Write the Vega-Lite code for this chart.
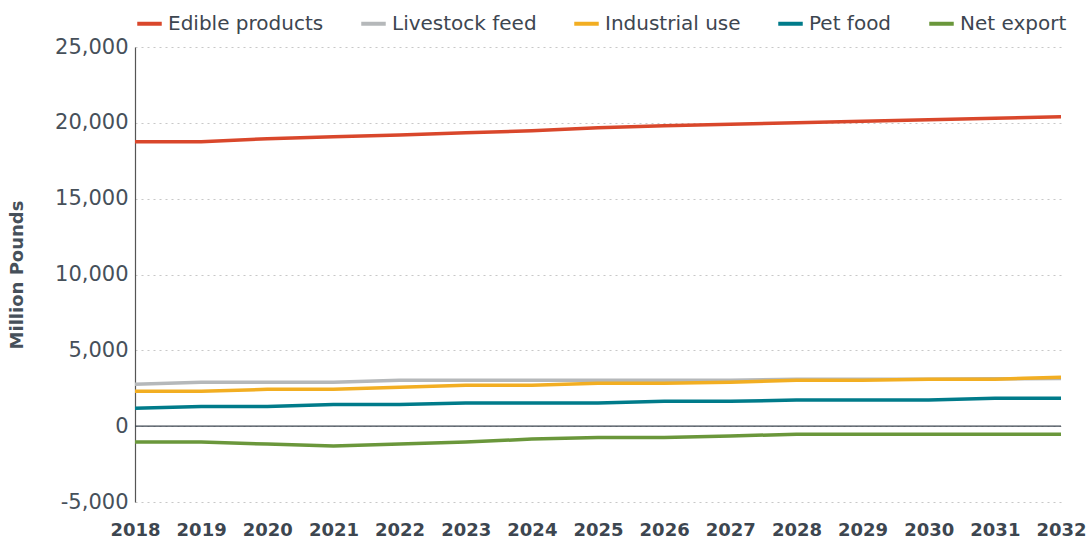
{
  "$schema": "https://vega.github.io/schema/vega-lite/v6.json",
  "width": 1087,
  "height": 543,
  "autosize": {"type": "fit", "contains": "padding"},
  "padding": {"left": 8, "top": 9, "right": 0, "bottom": 4},
  "config": {
    "view": {"stroke": null},
    "font": "DejaVu Sans",
    "axis": {"labelColor": "#46505a", "titleColor": "#46505a"}
  },
  "datasets": {
    "d": [
      {"year": "2018", "s": "Edible products", "v": 18750},
      {"year": "2019", "s": "Edible products", "v": 18750},
      {"year": "2020", "s": "Edible products", "v": 18950},
      {"year": "2021", "s": "Edible products", "v": 19080},
      {"year": "2022", "s": "Edible products", "v": 19200},
      {"year": "2023", "s": "Edible products", "v": 19340},
      {"year": "2024", "s": "Edible products", "v": 19470},
      {"year": "2025", "s": "Edible products", "v": 19670},
      {"year": "2026", "s": "Edible products", "v": 19800},
      {"year": "2027", "s": "Edible products", "v": 19900},
      {"year": "2028", "s": "Edible products", "v": 20000},
      {"year": "2029", "s": "Edible products", "v": 20100},
      {"year": "2030", "s": "Edible products", "v": 20200},
      {"year": "2031", "s": "Edible products", "v": 20300},
      {"year": "2032", "s": "Edible products", "v": 20400},
      {"year": "2018", "s": "Livestock feed", "v": 2760},
      {"year": "2019", "s": "Livestock feed", "v": 2890},
      {"year": "2020", "s": "Livestock feed", "v": 2890},
      {"year": "2021", "s": "Livestock feed", "v": 2900},
      {"year": "2022", "s": "Livestock feed", "v": 3030},
      {"year": "2023", "s": "Livestock feed", "v": 3030},
      {"year": "2024", "s": "Livestock feed", "v": 3030},
      {"year": "2025", "s": "Livestock feed", "v": 3030},
      {"year": "2026", "s": "Livestock feed", "v": 3030},
      {"year": "2027", "s": "Livestock feed", "v": 3030},
      {"year": "2028", "s": "Livestock feed", "v": 3100},
      {"year": "2029", "s": "Livestock feed", "v": 3100},
      {"year": "2030", "s": "Livestock feed", "v": 3100},
      {"year": "2031", "s": "Livestock feed", "v": 3120},
      {"year": "2032", "s": "Livestock feed", "v": 3150},
      {"year": "2018", "s": "Industrial use", "v": 2300},
      {"year": "2019", "s": "Industrial use", "v": 2300},
      {"year": "2020", "s": "Industrial use", "v": 2430},
      {"year": "2021", "s": "Industrial use", "v": 2430},
      {"year": "2022", "s": "Industrial use", "v": 2570},
      {"year": "2023", "s": "Industrial use", "v": 2700},
      {"year": "2024", "s": "Industrial use", "v": 2700},
      {"year": "2025", "s": "Industrial use", "v": 2830},
      {"year": "2026", "s": "Industrial use", "v": 2830},
      {"year": "2027", "s": "Industrial use", "v": 2900},
      {"year": "2028", "s": "Industrial use", "v": 3030},
      {"year": "2029", "s": "Industrial use", "v": 3030},
      {"year": "2030", "s": "Industrial use", "v": 3100},
      {"year": "2031", "s": "Industrial use", "v": 3100},
      {"year": "2032", "s": "Industrial use", "v": 3220},
      {"year": "2018", "s": "Pet food", "v": 1180},
      {"year": "2019", "s": "Pet food", "v": 1300},
      {"year": "2020", "s": "Pet food", "v": 1300},
      {"year": "2021", "s": "Pet food", "v": 1430},
      {"year": "2022", "s": "Pet food", "v": 1430},
      {"year": "2023", "s": "Pet food", "v": 1520},
      {"year": "2024", "s": "Pet food", "v": 1520},
      {"year": "2025", "s": "Pet food", "v": 1520},
      {"year": "2026", "s": "Pet food", "v": 1640},
      {"year": "2027", "s": "Pet food", "v": 1640},
      {"year": "2028", "s": "Pet food", "v": 1720},
      {"year": "2029", "s": "Pet food", "v": 1720},
      {"year": "2030", "s": "Pet food", "v": 1720},
      {"year": "2031", "s": "Pet food", "v": 1840},
      {"year": "2032", "s": "Pet food", "v": 1840},
      {"year": "2018", "s": "Net export", "v": -1050},
      {"year": "2019", "s": "Net export", "v": -1050},
      {"year": "2020", "s": "Net export", "v": -1180},
      {"year": "2021", "s": "Net export", "v": -1300},
      {"year": "2022", "s": "Net export", "v": -1180},
      {"year": "2023", "s": "Net export", "v": -1050},
      {"year": "2024", "s": "Net export", "v": -850},
      {"year": "2025", "s": "Net export", "v": -750},
      {"year": "2026", "s": "Net export", "v": -750},
      {"year": "2027", "s": "Net export", "v": -650},
      {"year": "2028", "s": "Net export", "v": -530},
      {"year": "2029", "s": "Net export", "v": -530},
      {"year": "2030", "s": "Net export", "v": -530},
      {"year": "2031", "s": "Net export", "v": -530},
      {"year": "2032", "s": "Net export", "v": -530}
    ],
    "zero": [{"z": 0}]
  },
  "layer": [
    {
      "data": {"name": "zero"},
      "mark": {"type": "rule", "color": "#3d4650", "strokeWidth": 1.2},
      "encoding": {"y": {"field": "z", "type": "quantitative"}}
    },
    {
      "data": {"name": "d"},
      "mark": {"type": "line", "strokeWidth": 3.5},
      "encoding": {
        "x": {
          "field": "year", "type": "ordinal",
          "scale": {"type": "point", "padding": 0},
          "axis": {"title": null, "domain": false, "ticks": false, "labelAngle": 0,
                   "labelPadding": 19, "labelFontSize": 18, "labelFontWeight": "bold", "labelColor": "#3d4650"}
        },
        "y": {
          "field": "v", "type": "quantitative",
          "scale": {"domain": [-5000, 25000], "nice": false},
          "axis": {"title": "Million Pounds", "titleFontSize": 18, "titleFontWeight": "bold",
                   "titlePadding": 28, "values": [-5000, 0, 5000, 10000, 15000, 20000, 25000],
                   "format": ",d", "labelExpr": "replace(datum.label, '\u2212', '-')",
                   "labelFontSize": 21, "labelPadding": 7, "ticks": false,
                   "domain": true, "domainColor": "#555", "domainWidth": 1.2,
                   "grid": true, "gridColor": "#c8c8c8", "gridDash": [2, 4], "gridWidth": 1.2}
        },
        "color": {
          "field": "s", "type": "nominal",
          "sort": ["Edible products", "Livestock feed", "Industrial use", "Pet food", "Net export"],
          "scale": {
            "domain": ["Edible products", "Livestock feed", "Industrial use", "Pet food", "Net export"],
            "range": ["#d9472b", "#b5b8ba", "#f2ae22", "#007b8a", "#6a973b"]
          },
          "legend": {
            "title": null, "orient": "top", "direction": "horizontal",
            "symbolType": "stroke", "symbolStrokeWidth": 4, "symbolSize": 600,
            "labelFontSize": 20, "labelColor": "#3d4650", "columnPadding": 29,
            "labelExpr": "datum.label == 'Pet food' ? '\u00a0\u00a0Pet food' : datum.label",
            "offset": 13, "labelLimit": 300
          }
        }
      }
    }
  ]
}
